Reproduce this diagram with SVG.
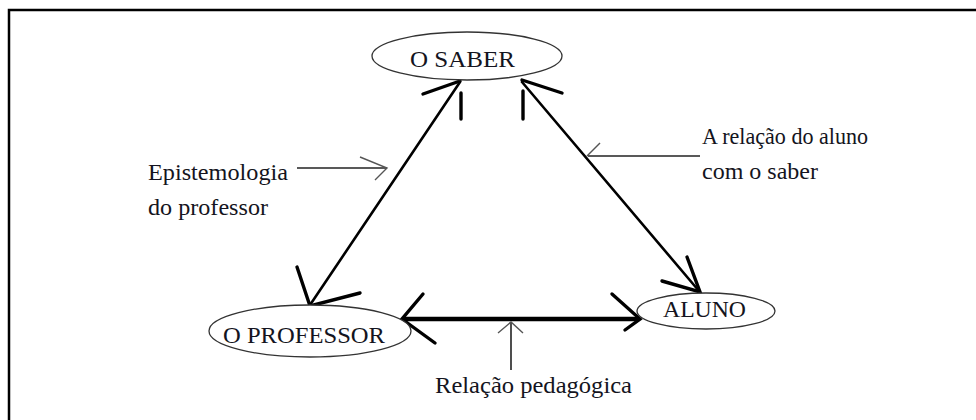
<svg xmlns="http://www.w3.org/2000/svg" width="976" height="420" viewBox="0 0 976 420">
<style>
text{font-family:"Liberation Serif","Times New Roman",serif;font-size:23px;fill:#141420}
.node{fill:#fff;stroke:#333;stroke-width:1.3}
.main{stroke:#000;stroke-width:2.6;fill:none;stroke-linecap:round}
.thick{stroke:#000;stroke-width:4.5;fill:none;stroke-linecap:round}
.barb{stroke:#000;stroke-width:3.4;fill:none;stroke-linecap:round}
.thin{stroke:#222;stroke-width:1.6;fill:none}
.thinhead{stroke:#555;stroke-width:1.4;fill:none}
</style>
<rect x="0" y="0" width="976" height="420" fill="#fff"/>
<path d="M9,420 V10 H976" fill="none" stroke="#000" stroke-width="2.5"/>
<g id="connectors">
  <line class="main" x1="310" y1="305" x2="460" y2="82"/>
  <path class="barb" d="M423,94 L460,81"/>
  <line class="barb" x1="461" y1="93" x2="461" y2="119"/>
  <path class="barb" d="M297,267 L310,306 L360,293"/>
  <line class="main" x1="522" y1="82" x2="699" y2="291"/>
  <path class="barb" d="M562,93 L522,80"/>
  <line class="barb" x1="523" y1="91" x2="523" y2="119"/>
  <path class="barb" d="M687,257 L700,292 L662,281"/>
  <line class="thick" x1="404" y1="319" x2="638" y2="319"/>
  <path class="barb" d="M423,294 L402,319 L435,343"/>
  <path class="barb" d="M612,294 L640,319 L625,330"/>
  <line class="thin" x1="297" y1="168" x2="387" y2="168"/>
  <path class="thinhead" d="M360,157 L387,168 L375,180"/>
  <line class="thin" x1="700" y1="156" x2="588" y2="156"/>
  <path class="thinhead" d="M600,143 L587,156"/>
  <line class="thin" x1="511" y1="370" x2="511" y2="322"/>
  <path class="thinhead" d="M498,333 L511,322 L523,333"/>
</g>
<g id="saber">
  <ellipse class="node" cx="467" cy="56" rx="95" ry="24"/>
  <text x="410" y="67" textLength="105" lengthAdjust="spacingAndGlyphs">O SABER</text>
</g>
<g id="professor">
  <ellipse class="node" cx="310" cy="331" rx="101" ry="26"/>
  <text x="223" y="343" textLength="162" lengthAdjust="spacingAndGlyphs">O PROFESSOR</text>
</g>
<g id="aluno">
  <ellipse class="node" cx="706" cy="311" rx="69" ry="18"/>
  <text x="663" y="317" textLength="83" lengthAdjust="spacingAndGlyphs">ALUNO</text>
</g>
<g id="label-epistemologia">
  <text x="148" y="180" textLength="140" lengthAdjust="spacingAndGlyphs">Epistemologia</text>
  <text x="148" y="215" textLength="120" lengthAdjust="spacingAndGlyphs">do professor</text>
</g>
<g id="label-aluno-saber">
  <text x="702" y="144" textLength="166" lengthAdjust="spacingAndGlyphs">A relação do aluno</text>
  <text x="702" y="179" textLength="116" lengthAdjust="spacingAndGlyphs">com o saber</text>
</g>
<g id="label-pedagogica">
  <text x="435" y="393" textLength="197" lengthAdjust="spacingAndGlyphs">Relação pedagógica</text>
</g>
</svg>
